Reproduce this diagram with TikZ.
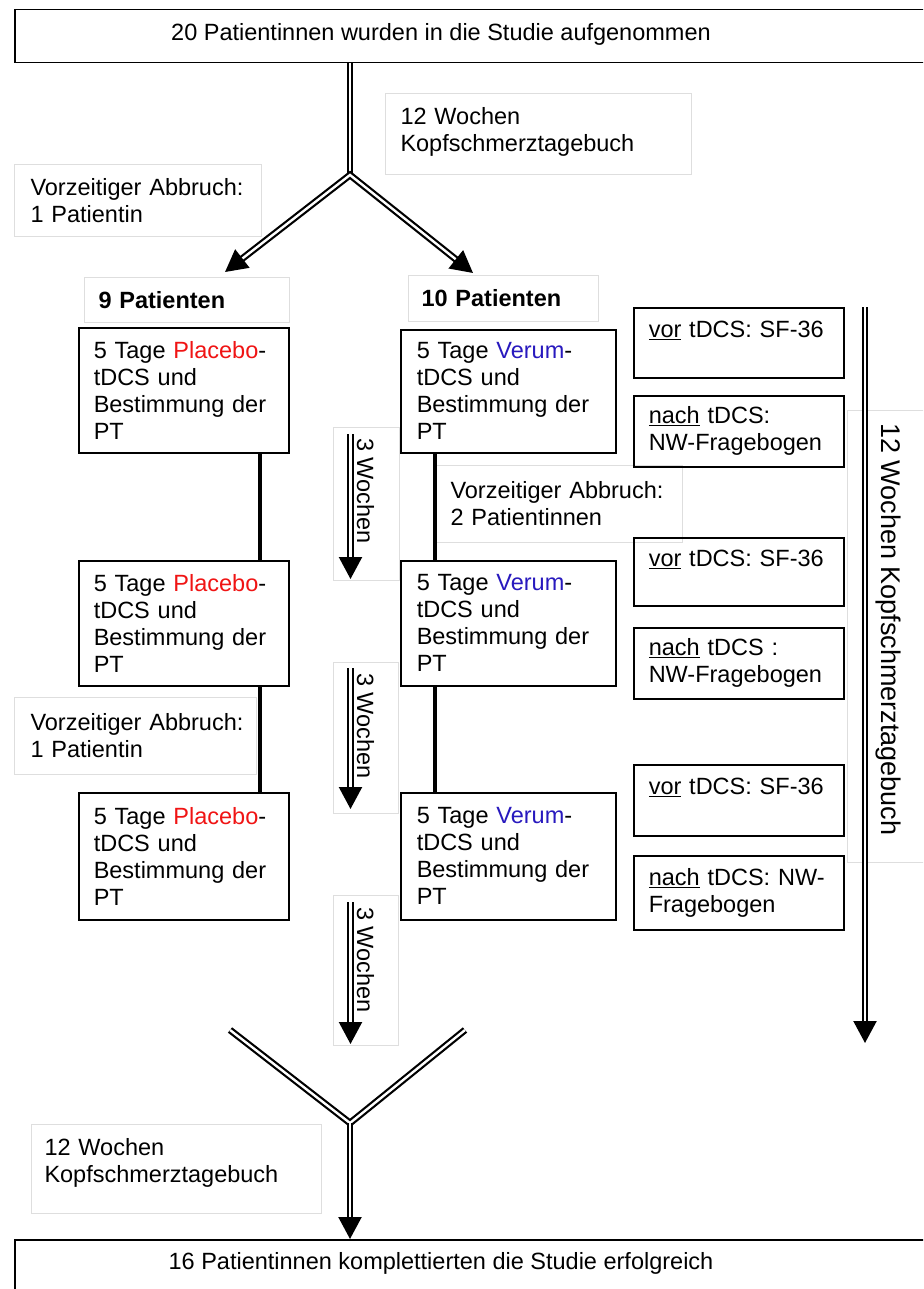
\documentclass[tikz,border=0pt]{standalone}
\usepackage{fontspec}
\setmainfont{Liberation Sans}
\usetikzlibrary{arrows.meta}
\definecolor{placebo}{RGB}{240,20,20}
\definecolor{verum}{RGB}{40,25,190}
\definecolor{lblgray}{RGB}{222,222,222}
\newcommand{\fsN}{\fontsize{23.5}{27}\selectfont}
\newcommand{\fsB}{\fontsize{27}{31}\selectfont}
\begin{document}
\begin{tikzpicture}[x=1pt,y=-1pt,
  every node/.style={font=\fsN, inner sep=0pt},
  box/.style={draw=black, line width=1.5pt, anchor=north west, align=left, inner xsep=15pt},
  lbl/.style={draw=lblgray, line width=1pt, anchor=north west, align=left, inner xsep=15pt},
  conn/.style={line width=4.5pt},
  dbl/.style={double, double distance=2.4pt, line width=2.2pt},
  tip/.style={-{Triangle[length=22pt,width=23pt]}},
  tips/.style={{Triangle[length=22pt,width=23pt]}-{Triangle[length=22pt,width=23pt]}},
  rot/.style={rotate=-90, anchor=west}
]
\clip (0,0) rectangle (923,1289);
\fill[white] (0,0) rectangle (923,1289);

% ---- light label boxes (behind) ----
\node[lbl, minimum width=306pt, minimum height=81pt, text width=276pt] (lblA) at (385,93) {12 Wochen\\Kopfschmerztagebuch\\[-17pt]\mbox{}};
\node[lbl, inner xsep=16pt, minimum width=247pt, minimum height=72pt, text width=215pt] (lblB) at (14,164) {\mbox{Vorzeitiger Abbruch:}\\1 Patientin};
\node[lbl, inner xsep=14pt, minimum width=205pt, minimum height=45pt, text width=177pt] (p9) at (84,277) {\bfseries 9 Patienten};
\node[lbl, inner xsep=13pt, minimum width=190pt, minimum height=46pt, text width=164pt] (p10) at (408,275) {\bfseries 10 Patienten};
\node[lbl, inner xsep=14pt, minimum width=246pt, minimum height=77pt, text width=218pt] (lblC) at (436,465) {\mbox{Vorzeitiger Abbruch:}\\2 Patientinnen};
\node[lbl, inner xsep=16pt, minimum width=242pt, minimum height=77pt, text width=210pt] (lblD) at (14,697) {\mbox{Vorzeitiger Abbruch:}\\1 Patientin};
\node[lbl, inner xsep=13pt, minimum width=290pt, minimum height=89pt, text width=264pt] (lblE) at (31,1124) {12 Wochen\\Kopfschmerztagebuch\\[-10pt]\mbox{}};
\node[lbl, minimum width=80pt, minimum height=452pt] (rlbl) at (847,410) {};
\node[lbl, minimum width=66pt, minimum height=153pt] (wk1) at (333,427) {};
\node[lbl, minimum width=65pt, minimum height=151pt] (wk2) at (333,662) {};
\node[lbl, minimum width=65pt, minimum height=150pt] (wk3) at (333,895) {};

% ---- main boxes ----
\node[box, minimum width=926pt, minimum height=53pt] (topbox) at (14,9) {};
\node (toptext) at (441,34) {20 Patientinnen wurden in die Studie aufgenommen};
\node[box, minimum width=926pt, minimum height=60pt] (botbox) at (14,1239) {};
\node (bottext) at (441,1263) {16 Patientinnen komplettierten die Studie erfolgreich};

\node[box, minimum width=210pt, minimum height=125pt, text width=180pt] (pl1) at (78,327) {\mbox{5 Tage \textcolor{placebo}{Placebo}-}\\tDCS und\\Bestimmung der\\PT};
\node[box, minimum width=210pt, minimum height=125pt, text width=180pt] (pl2) at (78,560) {\mbox{5 Tage \textcolor{placebo}{Placebo}-}\\tDCS und\\Bestimmung der\\PT};
\node[box, minimum width=210pt, minimum height=127pt, text width=180pt] (pl3) at (78,792) {\mbox{5 Tage \textcolor{placebo}{Placebo}-}\\tDCS und\\Bestimmung der\\PT};

\node[box, inner xsep=16pt, minimum width=215pt, minimum height=123pt, text width=183pt] (ve1) at (400,329) {\mbox{5 Tage \textcolor{verum}{Verum}-}\\tDCS und\\Bestimmung der\\PT};
\node[box, inner xsep=16pt, minimum width=215pt, minimum height=125pt, text width=183pt] (ve2) at (400,560) {\mbox{5 Tage \textcolor{verum}{Verum}-}\\tDCS und\\Bestimmung der\\PT};
\node[box, inner xsep=16pt, minimum width=215pt, minimum height=127pt, text width=183pt] (ve3) at (400,792) {\mbox{5 Tage \textcolor{verum}{Verum}-}\\tDCS und\\Bestimmung der\\PT};

\node[box, minimum width=210pt, minimum height=70pt, text width=180pt] (vor1) at (633,307) {\underline{vor} tDCS: SF-36\\\mbox{}};
\node[box, minimum width=210pt, minimum height=71pt, text width=180pt] (nach1) at (633,395) {\underline{nach} tDCS:\\NW-Fragebogen};
\node[box, minimum width=210pt, minimum height=68pt, text width=180pt] (vor2) at (633,537) {\underline{vor} tDCS: SF-36\\\mbox{}};
\node[box, minimum width=210pt, minimum height=71pt, text width=180pt] (nach2) at (633,627) {\underline{nach} tDCS :\\NW-Fragebogen};
\node[box, minimum width=210pt, minimum height=71pt, text width=180pt] (vor3) at (633,764) {\underline{vor} tDCS: SF-36\\\mbox{}};
\node[box, minimum width=210pt, minimum height=74pt, text width=180pt] (nach3) at (633,855) {\mbox{\underline{nach} tDCS: NW-}\\Fragebogen};

% ---- rotated texts ----
\node[rot, font=\fsB] (rtext) at (888,423) {12 Wochen Kopfschmerztagebuch};
\node[rot] (wt1) at (365.5,438) {3 Wochen};
\node[rot] (wt2) at (365.5,673) {3 Wochen};
\node[rot] (wt3) at (365.5,907) {3 Wochen};

% ---- connectors ----
\coordinate (fork1) at (350,175);
\coordinate (tipL) at (225,272);
\coordinate (tipR) at (473,273);
\draw[dbl] (topbox.south -| fork1) -- (fork1);
\draw[dbl,tips] (tipL) -- (fork1) -- (tipR);

\draw[conn] ([xshift=76pt]pl1.south) -- ([xshift=76pt]pl2.north);
\draw[conn] ([xshift=76pt]pl2.south) -- ([xshift=76pt]pl3.north);
\draw[conn] ([xshift=-73.5pt]ve1.south) -- ([xshift=-73.5pt]ve2.north);
\draw[conn] ([xshift=-73.5pt]ve2.south) -- ([xshift=-73.5pt]ve3.north);

\draw[dbl,tip] ([xshift=-16pt,yshift=-7pt]wk1.north) -- ([xshift=-16pt,yshift=2pt]wk1.south);
\draw[dbl,tip] ([xshift=-15.5pt,yshift=-6pt]wk2.north) -- ([xshift=-15.5pt,yshift=5pt]wk2.south);
\draw[dbl,tip] ([xshift=-15.5pt,yshift=-7pt]wk3.north) -- ([xshift=-15.5pt,yshift=2pt]wk3.south);

\coordinate (rtop) at (865,307);
\coordinate (rbot) at (865,1043);
\draw[dbl,tip] (rtop) -- (rbot);

\coordinate (yL) at (230,1030);
\coordinate (yR) at (465,1030);
\coordinate (fork2) at (350,1123);
\draw[dbl] (yL) -- (fork2) -- (yR);
\draw[dbl,tip] (fork2) -- (botbox.north -| fork2);
\end{tikzpicture}
\end{document}
